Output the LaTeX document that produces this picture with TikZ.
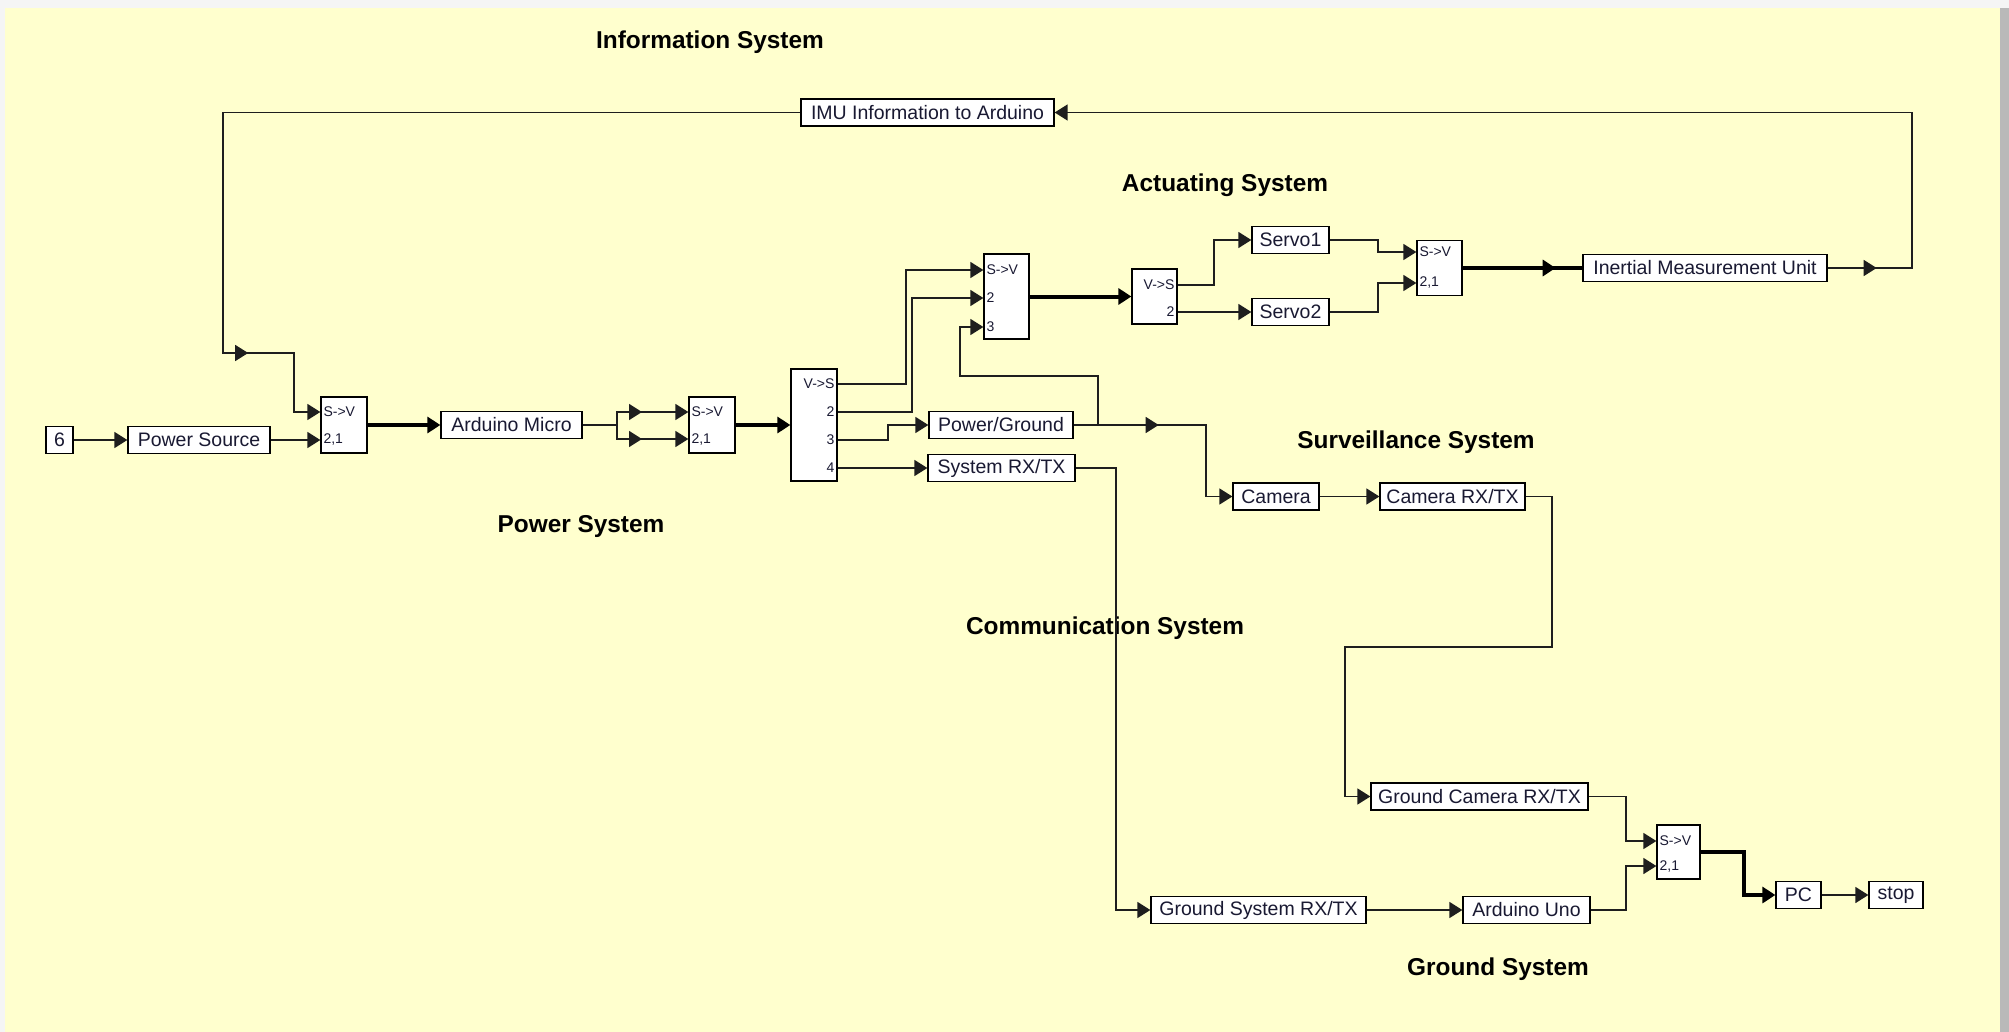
\documentclass[tikz,border=0pt]{standalone}
\usepackage{fontspec}
\setmainfont{Liberation Sans}
\usetikzlibrary{arrows.meta,decorations.markings}
\definecolor{panel}{RGB}{255,255,206}
\definecolor{ink}{RGB}{25,25,50}
\definecolor{wirec}{RGB}{30,30,30}
\newcommand{\lblfont}{\fontsize{19.5}{22}\selectfont}
\newcommand{\ttlfont}{\fontsize{24.4}{28}\selectfont\bfseries}
\newcommand{\prtfont}{\fontsize{14}{16}\selectfont}
\tikzset{
  lblbox/.style={draw=black, line width=1.3pt, fill=white, minimum height=27pt, inner sep=0pt, text=ink, font=\lblfont},
  muxbox/.style={draw=black, line width=1.3pt, fill=white, inner sep=0pt},
  wire/.style={draw=wirec, line width=1.6pt},
  bus/.style={draw=black, line width=4pt},
  arr/.style={-{Triangle[length=13pt,width=16pt]}},
  midarr/.style={postaction={decorate,decoration={markings,mark=at position #1 with {\arrow{Triangle[length=13pt,width=16pt]}}}}},
  ttl/.style={font=\ttlfont, text=black, inner sep=0pt},
  prt/.style={font=\prtfont, text=ink, inner sep=0pt},
}
\begin{document}
\begin{tikzpicture}[x=1pt,y=-1pt]
\useasboundingbox (0,0) rectangle (2009,1032);
\fill[gray!8] (0,0) rectangle (2009,1032);
\fill[gray!55] (2000,8) rectangle (2009,1032);
\fill[panel] (5,8) rectangle (2000,1032);

% titles
\node[ttl] (tinfo) at (710,42) {Information System};
\node[ttl] (tact) at (1225,185) {Actuating System};
\node[ttl] (tpow) at (581,527) {Power System};
\node[ttl] (tsurv) at (1416,442) {Surveillance System};
\node[ttl] (tcomm) at (1105,628) {Communication System};
\node[ttl] (tgnd) at (1498,969) {Ground System};

% label boxes
\node[lblbox, minimum width=27pt] (six) at (59.5,440) {6};
\node[lblbox, minimum width=142pt] (powersrc) at (199,440) {Power Source};
\node[lblbox, minimum width=141pt] (ardmicro) at (511.5,425) {Arduino Micro};
\node[lblbox, minimum width=144pt] (powground) at (1001,425) {Power/Ground};
\node[lblbox, minimum width=147pt] (sysrxtx) at (1001.5,468) {System RX/TX};
\node[lblbox, minimum width=77pt] (servo1) at (1290.5,240) {Servo1};
\node[lblbox, minimum width=77pt] (servo2) at (1290.5,312) {Servo2};
\node[lblbox, minimum width=244pt] (imu) at (1705,268) {Inertial Measurement Unit};
\node[lblbox, minimum width=253pt] (imuinfo) at (927.5,112.5) {IMU Information to Arduino};
\node[lblbox, minimum width=86pt] (camera) at (1276,496.5) {Camera};
\node[lblbox, minimum width=145pt] (camrxtx) at (1452.5,496.5) {Camera RX/TX};
\node[lblbox, minimum width=217pt] (gcam) at (1479.5,796.5) {Ground Camera RX/TX};
\node[lblbox, minimum width=215pt] (gsys) at (1258.5,910) {Ground System RX/TX};
\node[lblbox, minimum width=127pt] (arduno) at (1526.5,910) {Arduino Uno};
\node[lblbox, minimum width=45pt] (pc) at (1798.5,895) {PC};
\node[lblbox, minimum width=54pt] (stop) at (1896,895) {stop};

% mux / demux blocks
\node[muxbox, minimum width=46pt, minimum height=56pt] (mux1) at (344,425) {};
\node[muxbox, minimum width=46pt, minimum height=56pt] (mux3) at (712,425) {};
\node[muxbox, minimum width=46pt, minimum height=112pt] (demux1) at (814,425) {};
\node[muxbox, minimum width=45pt, minimum height=85pt] (mux2) at (1006.5,296.5) {};
\node[muxbox, minimum width=45pt, minimum height=55pt] (demux2) at (1154.5,296.5) {};
\node[muxbox, minimum width=45pt, minimum height=55pt] (mux5) at (1439.5,268) {};
\node[muxbox, minimum width=43pt, minimum height=54pt] (mux4) at (1678.5,852) {};

% port labels
\node[prt, anchor=west] (m1a) at ([xshift=3pt]mux1.west |- 0,412) {S->V};
\node[prt, anchor=west] (m1b) at ([xshift=3pt]mux1.west |- 0,440) {2,1};
\node[prt, anchor=west] (m3a) at ([xshift=3pt]mux3.west |- 0,412) {S->V};
\node[prt, anchor=west] (m3b) at ([xshift=3pt]mux3.west |- 0,440) {2,1};
\node[prt, anchor=east] (d1a) at ([xshift=-3pt]demux1.east |- 0,384) {V->S};
\node[prt, anchor=east] (d1b) at ([xshift=-3pt]demux1.east |- 0,412) {2};
\node[prt, anchor=east] (d1c) at ([xshift=-3pt]demux1.east |- 0,440) {3};
\node[prt, anchor=east] (d1d) at ([xshift=-3pt]demux1.east |- 0,468) {4};
\node[prt, anchor=west] (m2a) at ([xshift=3pt]mux2.west |- 0,270) {S->V};
\node[prt, anchor=west] (m2b) at ([xshift=3pt]mux2.west |- 0,298) {2};
\node[prt, anchor=west] (m2c) at ([xshift=3pt]mux2.west |- 0,327) {3};
\node[prt, anchor=east] (d2a) at ([xshift=-3pt]demux2.east |- 0,285) {V->S};
\node[prt, anchor=east] (d2b) at ([xshift=-3pt]demux2.east |- 0,312) {2};
\node[prt, anchor=west] (m5a) at ([xshift=3pt]mux5.west |- 0,252) {S->V};
\node[prt, anchor=west] (m5b) at ([xshift=3pt]mux5.west |- 0,283) {2,1};
\node[prt, anchor=west] (m4a) at ([xshift=3pt]mux4.west |- 0,841) {S->V};
\node[prt, anchor=west] (m4b) at ([xshift=3pt]mux4.west |- 0,866) {2,1};

% junction coordinates
\coordinate (split) at (617,425);
\coordinate (pgb) at (1098,425);
\coordinate (fbr) at (1912,268);

% connectors
\draw[wire,arr] (six) -- (powersrc);
\draw[wire,arr] (powersrc.east) -- (mux1.west |- powersrc);
\draw[wire,arr,midarr=843pt] (imuinfo.west) -| (223,353) -| (294,412) -- (mux1.west |- 0,412);
\draw[bus,arr] (mux1.east) -- (ardmicro.west);
\draw[wire] (ardmicro.east) -- (split);
\draw[wire,arr,midarr=38pt] (split) |- (mux3.west |- 0,412);
\draw[wire,arr,midarr=39pt] (split) |- (mux3.west |- 0,439);
\draw[bus,arr] (mux3.east) -- (demux1.west);
\draw[wire,arr] (demux1.east |- 0,384) -| (906,270) -- (mux2.west |- 0,270);
\draw[wire,arr] (demux1.east |- 0,412) -| (912,298) -- (mux2.west |- 0,298);
\draw[wire,arr] (demux1.east |- 0,440) -| (888,425) -- (powground.west);
\draw[wire,arr] (demux1.east |- 0,468) -- (sysrxtx.west);
\draw[wire,arr,midarr=85pt] (powground.east) -| (1206,496.5) -- (camera.west);
\draw[wire,arr] (pgb) |- (960,376) |- (mux2.west |- 0,327);
\draw[bus,arr] (mux2.east) -- (demux2.west);
\draw[wire,arr] (demux2.east |- 0,285) -| (1214,240) -- (servo1.west);
\draw[wire,arr] (demux2.east |- 0,312) -- (servo2.west);
\draw[wire,arr] (servo1.east) -| (1378,252) -- (mux5.west |- 0,252);
\draw[wire,arr] (servo2.east) -| (1378,283) -- (mux5.west |- 0,283);
\draw[bus,midarr=93pt] (mux5.east) -- (imu.west);
\draw[wire,arr,midarr=49pt] (imu.east) -- (fbr) |- (imuinfo.east);
\draw[wire,arr] (camera) -- (camrxtx);
\draw[wire,arr] (camrxtx.east) -| (1552,647) -| (1345,796.5) -- (gcam.west);
\draw[wire,arr] (sysrxtx.east) -| (1116,910) -- (gsys.west);
\draw[wire,arr] (gsys) -- (arduno);
\draw[wire,arr] (gcam.east) -| (1626,841) -- (mux4.west |- 0,841);
\draw[wire,arr] (arduno.east) -| (1626,866) -- (mux4.west |- 0,866);
\draw[bus,arr] (mux4.east) -| (1744,895) -- (pc.west);
\draw[wire,arr] (pc) -- (stop);
\end{tikzpicture}
\end{document}
